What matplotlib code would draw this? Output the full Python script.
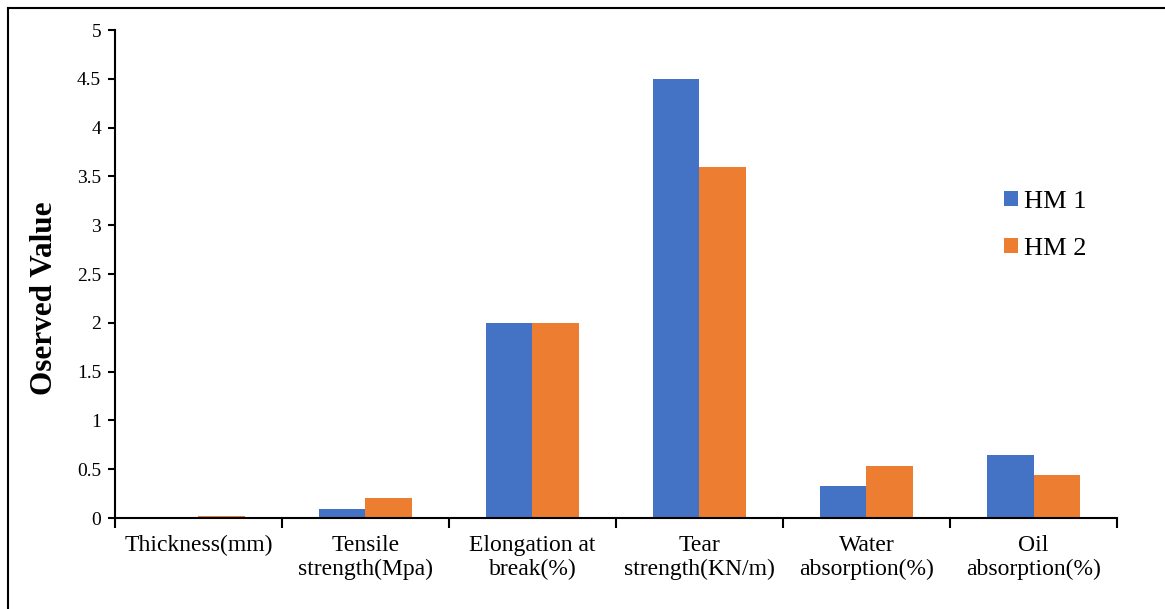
import numpy as np
import matplotlib.pyplot as plt
from matplotlib.lines import Line2D

plt.rcParams['font.family'] = ['Liberation Serif', 'DejaVu Serif']

# Measured properties of the two samples
categories = ['Thickness(mm)', 'Tensile\nstrength(Mpa)', 'Elongation at\nbreak(%)',
              'Tear\nstrength(KN/m)', 'Water\nabsorption(%)', 'Oil\nabsorption(%)']
hm1 = [0.0, 0.09, 2.0, 4.5, 0.33, 0.65]
hm2 = [0.02, 0.2, 2.0, 3.6, 0.53, 0.44]
series_names = ['HM 1', 'HM 2']
colors = ['#4472C4', '#ED7D31']

x = np.arange(len(categories))
w = 0.28

fig = plt.figure(figsize=(11.65, 6.09), dpi=100)
ax = fig.add_axes([0.0987, 0.1494, 0.8601, 0.8013])

ax.bar(x - w / 2, hm1, width=w, color=colors[0], label=series_names[0])
ax.bar(x + w / 2, hm2, width=w, color=colors[1], label=series_names[1])

ax.set_xlim(-0.5, len(categories) - 0.5)
ax.set_ylim(0, 5)
ax.set_yticks(np.arange(0, 5.01, 0.5))
ax.set_yticklabels(['0', '0.5', '1', '1.5', '2', '2.5', '3', '3.5', '4', '4.5', '5'])

# category boundaries carry the tick marks, centres carry the labels
ax.set_xticks(np.arange(-0.5, len(categories)), labels=[''] * (len(categories) + 1))
ax.set_xticks(x, labels=categories, minor=True)
ax.tick_params(axis='x', which='major', length=7, width=1.5, direction='out')
ax.tick_params(axis='x', which='minor', length=0, labelsize=17, pad=12)
ax.tick_params(axis='y', length=5, width=1.5, labelsize=14, pad=5)

for s in ['top', 'right']:
    ax.spines[s].set_visible(False)
for s in ['left', 'bottom']:
    ax.spines[s].set_linewidth(1.5)

ax.set_ylabel('Oserved Value', fontsize=22.5, fontweight='bold')
ax.yaxis.set_label_coords(-0.056, 0.45)

ax.legend(loc='upper left', bbox_to_anchor=(0.864, 0.719), frameon=False,
          fontsize=19, handlelength=0.5, handleheight=0.5, handletextpad=0.25,
          labelspacing=0.95)

# outer frame line along the left and top edges
fig.add_artist(Line2D([7.5 / 1165, 7.5 / 1165], [0, 1 - 7.5 / 609],
                      transform=fig.transFigure, color='black', lw=1.5))
fig.add_artist(Line2D([7.5 / 1165, 1], [1 - 7.5 / 609, 1 - 7.5 / 609],
                      transform=fig.transFigure, color='black', lw=1.5))

fig.savefig('out.png', dpi=100)
